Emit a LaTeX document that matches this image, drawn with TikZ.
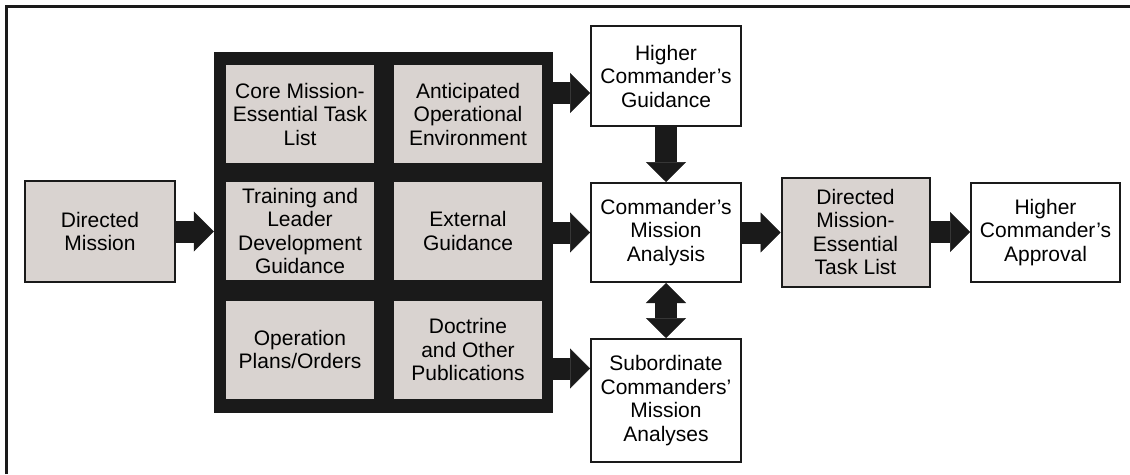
\documentclass[tikz,border=0pt]{standalone}
\usepackage{fontspec}
\setmainfont{Liberation Sans}
\usetikzlibrary{arrows.meta}
\definecolor{cellgray}{RGB}{217,211,208}
\definecolor{ink}{RGB}{26,26,26}

\begin{document}
\begin{tikzpicture}[x=1pt,y=-1pt,
    box/.style={draw=ink,line width=2pt,align=center,inner sep=0pt,
                fill=white,font=\fontsize{21}{23.5}\selectfont},
    grayBox/.style={box,fill=cellgray},
    cell/.style={fill=cellgray,align=center,inner sep=0pt,
                 minimum width=148,minimum height=98,
                 font=\fontsize{21}{23.5}\selectfont},
    bigArr/.style={draw=ink,line width=22pt,
                   -{Triangle[length=20pt,width=40pt,line width=0.5pt]}},
    bigDbl/.style={draw=ink,line width=22pt,
                   {Triangle[length=20pt,width=40pt,line width=0.5pt]}-{Triangle[length=20pt,width=40pt,line width=0.5pt]}}]

\useasboundingbox (0,0) rectangle (1130,474);

\draw[ink,line width=3pt]
     (6.5,474) -- (6.5,6.5) -- (1130,6.5);

\node[grayBox,minimum width=150,minimum height=101]
     at (100,231.5) (dm)
     {Directed\\Mission};

\node[fill=ink,inner sep=0pt,
      minimum width=339,minimum height=361]
     at (383.5,232.5) (src) {};

\node[cell] at (300,114) (cmetl)
     {Core Mission-\\Essential Task\\List};
\node[cell] at (468,114) (aoe)
     {Anticipated\\Operational\\Environment};
\node[cell] at (300,231) (tldg)
     {Training and\\Leader\\Development\\Guidance};
\node[cell] at (468,231) (extG)
     {External\\Guidance};
\node[cell] at (300,349.5) (opl)
     {Operation\\Plans/Orders};
\node[cell] at (468,349.5) (docP)
     {Doctrine\\and Other\\Publications};

\node[box,minimum width=150,minimum height=100]
     at (666,76) (hcg)
     {Higher\\Commander’s\\Guidance};
\node[box,minimum width=150,minimum height=99]
     at (666,232.5) (cma)
     {Commander’s\\Mission\\Analysis};
\node[box,minimum width=150,minimum height=123]
     at (666,400.5) (sub)
     {Subordinate\\Commanders’\\Mission\\Analyses};
\node[grayBox,minimum width=148,minimum height=109]
     at (855.5,232) (dml)
     {Directed\\Mission-\\Essential\\Task List};
\node[box,minimum width=149,minimum height=99]
     at (1045.5,232.5) (hca)
     {Higher\\Commander’s\\Approval};

\draw[bigArr] (dm.east) -- (dm.east -| src.west);

\draw[bigArr] ([yshift=-17pt]hcg.west -| src.east)
     -- ([yshift=-17pt]hcg.west);
\draw[bigArr] (cma.west -| src.east) -- (cma.west);
\draw[bigArr] ([yshift=32pt]sub.west -| src.east)
     -- ([yshift=32pt]sub.west);

\draw[bigArr] (hcg.south) -- (cma.north);
\draw[bigDbl] (cma.south) -- (sub.north);

\draw[bigArr] (cma.east) -- (cma.east -| dml.west);
\draw[bigArr] (dml.east) -- (dml.east -| hca.west);

\end{tikzpicture}
\end{document}
